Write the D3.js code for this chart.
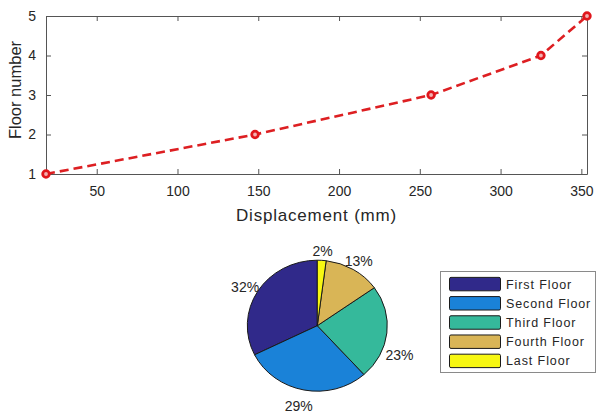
<!DOCTYPE html>
<html>
<head>
<meta charset="utf-8">
<script src="https://cdn.jsdelivr.net/npm/d3@7"></script>
<style>
  html, body { margin: 0; padding: 0; background: #fff; }
  text { font-family: "Liberation Sans", Arial, Helvetica, sans-serif; fill: #262626; }
</style>
</head>
<body>
<svg id="chart" width="597" height="417"></svg>
<script>
// Floor displacement profile
const displacement = [18.6, 148, 257, 325, 353.5];
const floorNumber = [1, 2, 3, 4, 5];
const xTicks = [50, 100, 150, 200, 250, 300, 350];
const yTicks = [1, 2, 3, 4, 5];

// Share of each floor
const floorNames = ["First Floor", "Second Floor", "Third Floor", "Fourth Floor", "Last Floor"];
const floorShare = [32, 29, 23, 13, 2];
const floorColors = ["#30298a", "#1a82d8", "#35b99b", "#d9b556", "#f7f712"];

const svg = d3.select("#chart");

// ---------- line plot ----------
const plot = { left: 46, right: 587, top: 16, bottom: 174 };
const x = d3.scaleLinear().domain([d3.min(displacement), d3.max(displacement)]).range([plot.left, plot.right]);
const y = d3.scaleLinear().domain([1, 5]).range([plot.bottom, plot.top]);

const axisColor = "#555";
const g = svg.append("g");

// bottom / top / left / right axes with inward ticks
const bottomAxis = d3.axisBottom(x).tickValues(xTicks).tickSizeInner(-5).tickSizeOuter(0).tickPadding(12).tickFormat(d3.format("d"));
const topAxis = d3.axisTop(x).tickValues(xTicks).tickSizeInner(-5).tickSizeOuter(0).tickFormat("");
const leftAxis = d3.axisLeft(y).tickValues(yTicks).tickSizeInner(-5).tickSizeOuter(0).tickPadding(10).tickFormat(d3.format("d"));
const rightAxis = d3.axisRight(y).tickValues(yTicks).tickSizeInner(-5).tickSizeOuter(0).tickFormat("");

function styleAxis(sel) {
  sel.selectAll("path").attr("stroke", axisColor).attr("stroke-width", 1);
  sel.selectAll("line").attr("stroke", axisColor).attr("stroke-width", 1);
  sel.selectAll("text").attr("font-size", 14).attr("fill", "#262626")
    .style("font-family", "'Liberation Sans', Arial, sans-serif");
}
g.append("g").attr("transform", `translate(0,${plot.bottom})`).call(bottomAxis).call(styleAxis);
g.append("g").attr("transform", `translate(0,${plot.top})`).call(topAxis).call(styleAxis);
g.append("g").attr("transform", `translate(${plot.left},0)`).call(leftAxis).call(styleAxis);
g.append("g").attr("transform", `translate(${plot.right},0)`).call(rightAxis).call(styleAxis);

// axis titles
g.append("text")
  .attr("x", 316.5).attr("y", 221)
  .attr("text-anchor", "middle")
  .attr("font-size", 17).style("letter-spacing", "0.8px")
  .text("Displacement (mm)");
g.append("text")
  .attr("transform", "translate(21,90) rotate(-90)")
  .attr("text-anchor", "middle")
  .attr("font-size", 16.5)
  .text("Floor number");

// dashed profile line
const pts = displacement.map((d, i) => [d, floorNumber[i]]);
const line = d3.line().x(d => x(d[0])).y(d => y(d[1]));
g.append("path")
  .datum(pts)
  .attr("d", line)
  .attr("fill", "none")
  .attr("stroke", "#dd1f22")
  .attr("stroke-width", 2.6)
  .attr("stroke-dasharray", "9,5");

g.selectAll("circle.mk")
  .data(pts)
  .join("circle")
  .attr("class", "mk")
  .attr("cx", d => x(d[0]))
  .attr("cy", d => y(d[1]))
  .attr("r", 3.3)
  .attr("fill", "#f2b0b0")
  .attr("stroke", "#e0161c")
  .attr("stroke-width", 2.8);

// ---------- pie ----------
const cx = 317.3, cy = 325.7, rx = 70, ry = 65.5;
const pie = d3.pie().sort(null).startAngle(0).endAngle(-2 * Math.PI);
const arcs = pie(floorShare);
const arc = d3.arc().innerRadius(0).outerRadius(rx);

const pg = svg.append("g").attr("transform", `translate(${cx},${cy}) scale(1,${ry / rx})`);
pg.selectAll("path")
  .data(arcs)
  .join("path")
  .attr("d", arc)
  .attr("fill", (d, i) => floorColors[i])
  .attr("stroke", "#1a1a1a")
  .attr("stroke-width", 1)
  .attr("vector-effect", "non-scaling-stroke");

// percentage labels placed outside each slice at its mid angle
const labelFactor = 1.18;
const labelShift = [[-2, 2], [-3, 4], [0, 21], [-1, 2], [0, 2]];
const total = d3.sum(floorShare);
svg.selectAll("text.pct")
  .data(arcs)
  .join("text")
  .attr("class", "pct")
  .attr("x", (d, i) => cx + Math.sin((d.startAngle + d.endAngle) / 2) * rx * labelFactor + labelShift[i][0])
  .attr("y", (d, i) => cy - Math.cos((d.startAngle + d.endAngle) / 2) * ry * labelFactor + labelShift[i][1])
  .attr("text-anchor", "middle")
  .attr("dominant-baseline", "central")
  .attr("font-size", 14)
  .text(d => Math.round(d.value / total * 100) + "%");

// ---------- legend ----------
const lg = svg.append("g");
lg.append("rect")
  .attr("x", 440.5).attr("y", 271.5)
  .attr("width", 155).attr("height", 101)
  .attr("fill", "#fff")
  .attr("stroke", "#8a8a8a").attr("stroke-width", 1);

const rowY = d3.scaleBand().domain(floorNames).range([274, 370]).paddingInner(0.3).paddingOuter(0.15);
const rows = lg.selectAll("g.row")
  .data(floorNames)
  .join("g")
  .attr("class", "row");
rows.append("rect")
  .attr("x", 449.5)
  .attr("y", d => rowY(d) + 0.5)
  .attr("width", 51)
  .attr("height", rowY.bandwidth())
  .attr("rx", 1.5)
  .attr("fill", (d, i) => floorColors[i])
  .attr("stroke", "#1a1a1a").attr("stroke-width", 1);
rows.append("text")
  .attr("x", 506)
  .attr("y", d => rowY(d) + rowY.bandwidth() / 2 + 1)
  .attr("dominant-baseline", "central")
  .attr("font-size", 12.5)
  .style("letter-spacing", "0.9px")
  .text(d => d);
</script>
</body>
</html>
